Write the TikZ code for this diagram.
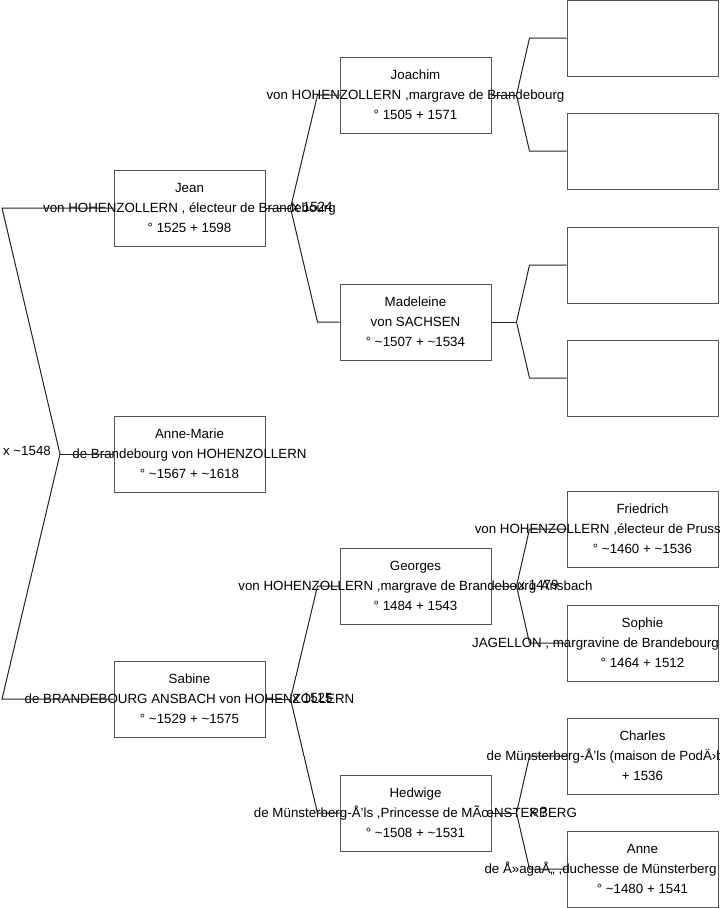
\documentclass[tikz,border=0pt]{standalone}
\usepackage{fontspec}
\setmainfont{Liberation Sans}
\usepackage{tikz}
\usetikzlibrary{positioning, calc}
\definecolor{fichegris}{RGB}{85,85,85}
\definecolor{liengris}{RGB}{35,35,35}
\newcommand{\ligne}[1]{\makebox[0pt]{#1}}
\newcommand{\decale}[2]{\makebox[0pt]{\hspace*{#1}#2}}

\begin{document}
\begin{tikzpicture}[
      x=0.75pt, y=-0.75pt,
      fiche/.style={draw=fichegris, line width=0.75pt, minimum width=113.25pt, minimum height=57pt, inner sep=0pt, align=center, font=\fontsize{10}{15}\selectfont},
      lien/.style={draw=liengris, line width=0.75pt},
      mariage/.style={inner sep=0pt, font=\fontsize{10}{12}\selectfont}
  ]
  \useasboundingbox (0,0) rectangle (719,908);
  \clip (0,0) rectangle (719,908);

  % generation 1
  \node[fiche] (annemarie) at (189.5,454) {\ligne{Anne-Marie}\\\ligne{de Brandebourg von HOHENZOLLERN}\\\ligne{° \textasciitilde1567 + \textasciitilde1618}};
  \node[fiche] (jean) at (189.5,208) {\ligne{Jean}\\\ligne{von HOHENZOLLERN , électeur de Brandebourg}\\\ligne{° 1525 + 1598}};
  \node[fiche] (sabine) at (189.5,699) {\ligne{Sabine}\\\ligne{de BRANDEBOURG ANSBACH von HOHENZOLLERN}\\\ligne{° \textasciitilde1529 + \textasciitilde1575}};

  % generation 2
  \node[fiche] (joachim) at (415.5,95) {\ligne{Joachim}\\\ligne{von HOHENZOLLERN ,margrave de Brandebourg}\\\ligne{° 1505 + 1571}};
  \node[fiche] (madeleine) at (415.5,322) {\ligne{Madeleine}\\\ligne{von SACHSEN}\\\ligne{° \textasciitilde1507 + \textasciitilde1534}};
  \node[fiche] (georges) at (415.5,586) {\ligne{Georges}\\\ligne{von HOHENZOLLERN ,margrave de Brandebourg-Ansbach}\\\ligne{° 1484 + 1543}};
  \node[fiche] (hedwige) at (415.5,813) {\ligne{Hedwige}\\\ligne{de Münsterberg-Å’ls ,Princesse de MÃœNSTERBERG}\\\ligne{° \textasciitilde1508 + \textasciitilde1531}};

  % generation 3
  \node[fiche] (vide1) at (642.5,38) {};
  \node[fiche] (vide2) at (642.5,151) {};
  \node[fiche] (vide3) at (642.5,265) {};
  \node[fiche] (vide4) at (642.5,378) {};
  \node[fiche] (friedrich) at (642.5,529) {\ligne{Friedrich}\\\decale{-61.5pt}{von HOHENZOLLERN ,électeur de Prusse}\\\ligne{° \textasciitilde1460 + \textasciitilde1536}};
  \node[fiche] (sophie) at (642.5,643) {\ligne{Sophie}\\\decale{-70.5pt}{JAGELLON , margravine de Brandebourg}\\\ligne{° 1464 + 1512}};
  \node[fiche] (charles) at (642.5,756) {\ligne{Charles}\\\decale{-33pt}{de Münsterberg-Å’ls (maison de PodÄ›brady)}\\\ligne{+ 1536}};
  \node[fiche] (anne) at (642.5,869) {\ligne{Anne}\\\decale{-63pt}{de Å»agaÅ„ ,duchesse de Münsterberg}\\\ligne{° \textasciitilde1480 + 1541}};

  % racine
  \coordinate (vRacine) at (60,454);
  \coordinate (pJean) at (2,208);
  \coordinate (pSabine) at (2,699);
  \draw[lien] (annemarie.west) -- (vRacine);
  \draw[lien] (jean.west) -- (pJean) -- (vRacine) -- (pSabine) -- (sabine.west);
  \node[mariage] (mRacine) at (27,451) {x \textasciitilde1548};

  % parents
  \foreach \enfant/\pere/\mere/\court in {jean/joachim/madeleine/22, sabine/georges/hedwige/22, joachim/vide1/vide2/37, madeleine/vide3/vide4/37, georges/friedrich/sophie/37, hedwige/charles/anne/37} {
    \draw[lien] (\enfant.east) -- ++(25,0) coordinate (v\enfant);
    \draw[lien] (\pere.west) -- ++(-\court,0) -- (v\enfant) -- ($(\mere.west)+(-\court,0)$) -- (\mere.west);
  }
  \node[mariage] (mJean) at ($(vjean)+(22,-1)$) {x 1524};
  \node[mariage] (mSabine) at ($(vsabine)+(22,-1)$) {x 1525};
  \node[mariage] (mGeorges) at ($(vgeorges)+(22,-1)$) {x 1479};
  \node[mariage] (mHedwige) at ($(vhedwige)+(22,-1)$) {x ?};
\end{tikzpicture}
\end{document}
